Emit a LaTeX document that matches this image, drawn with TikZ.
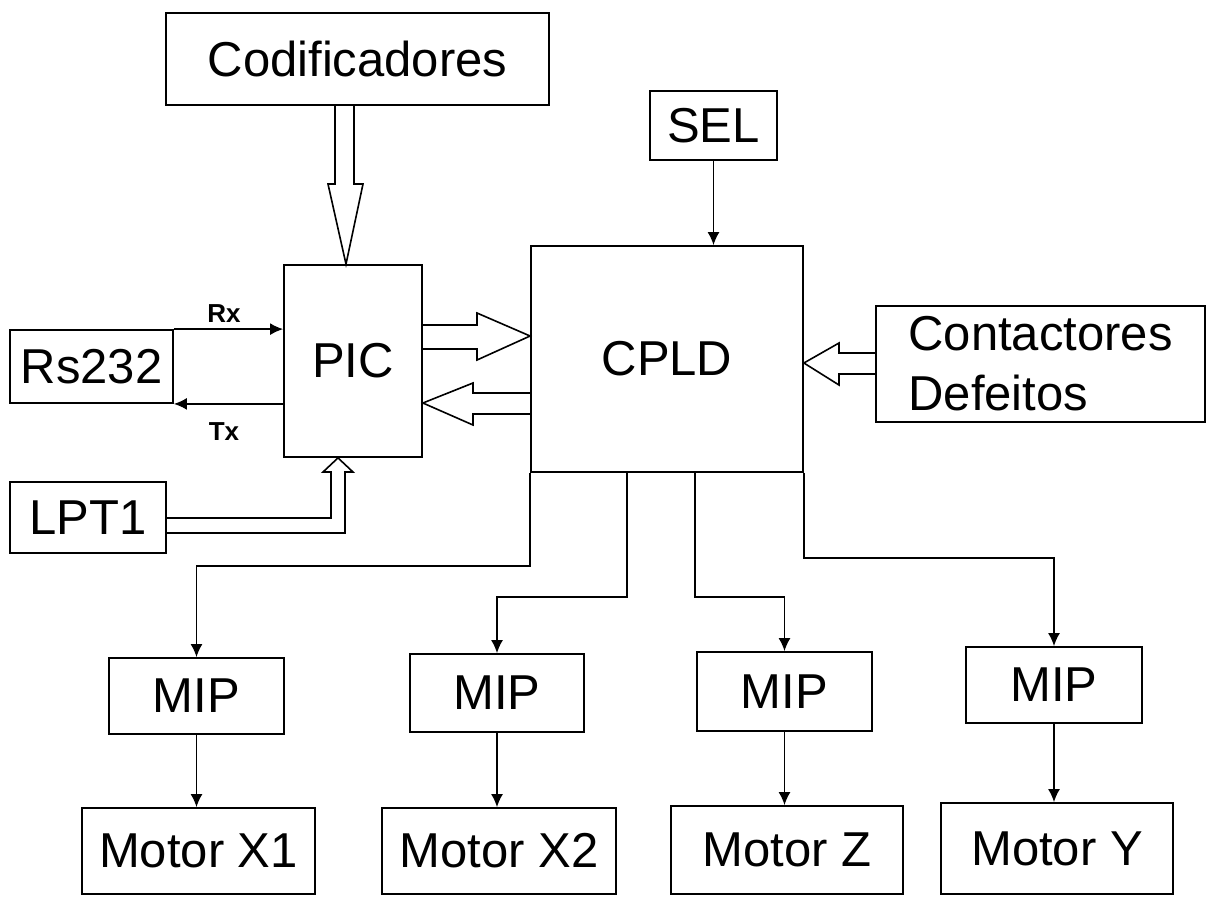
\documentclass[tikz,border=0pt]{standalone}
\usepackage{fontspec}
\setmainfont{Liberation Sans}
\usetikzlibrary{arrows.meta,calc}
\tikzset{
  bx/.style 2 args={draw, line width=0.9pt, inner sep=0pt, minimum width=#1*0.5pt, minimum height=#2*0.5pt, font=\fontsize{24.5}{30}\selectfont},
  lbl/.style={inner sep=0pt, font=\bfseries\fontsize{13}{16}\selectfont},
  arr/.style={line width=0.8pt, -{Latex[length=6.5pt,width=6pt]}},
  hollow/.style={line width=0.8pt, line join=miter}
}
\begin{document}
\begin{tikzpicture}[x=0.5pt,y=-0.5pt]
\useasboundingbox (0,0) rectangle (1207,896);
% boxes
\node[bx={383}{92}] (cod) at (357.5,59) {Codificadores};
\node[bx={127}{69}] (sel) at (713.5,125.5) {SEL};
\node[bx={138}{192}] (pic) at (353,361) {PIC};
\node[bx={272}{226}] (cpld) at (667,359) {CPLD};
\node[bx={163}{73}] (rs) at (91.5,366.5) {Rs232};
\node[bx={156}{71}] (lpt) at (88,517.5) {LPT1};
\node[bx={329}{116}, align=left] (cont) at (1040.5,364) {Contactores\\Defeitos};
\node[bx={175}{76}] (mip1) at (196.5,696) {MIP};
\node[bx={174}{78}] (mip2) at (497,693) {MIP};
\node[bx={175}{79}] (mip3) at (784.5,691.5) {MIP};
\node[bx={176}{76}] (mip4) at (1054,685) {MIP};
\node[bx={233}{86}] (mx1) at (198.5,851) {Motor X1};
\node[bx={234}{86}] (mx2) at (499,851) {Motor X2};
\node[bx={232}{88}] (mz) at (787,850) {Motor Z};
\node[bx={232}{91}] (my) at (1057,848.5) {Motor Y};
% serial lines
\draw[arr] (rs.north east) -- (pic.west |- rs.north);
\draw[arr] (pic.west |- rs.south) -- (rs.south east);
\node[lbl] (rxl) at (224,314) {Rx};
\node[lbl] (txl) at (224,432) {Tx};
% SEL
\draw[arr] (sel.south) -- (cpld.north -| sel.south);
% hollow bus arrows
\draw[hollow] (cod.south -| 335,0) -- (335,184) -- (328,184) -- (pic.north -| 346,0) -- (363,184) -- (354,184) -- (cod.south -| 354,0);
\draw[hollow] (pic.east |- 0,325) -- (477,325) -- (477,313) -- (cpld.west |- 0,336) -- (477,360) -- (477,349) -- (pic.east |- 0,349);
\draw[hollow] (cpld.west |- 0,393) -- (473,393) -- (473,383) -- (pic.east |- 0,403) -- (473,425) -- (473,414) -- (cpld.west |- 0,414);
\draw[hollow] (lpt.east |- 0,518) -- (331,518) -- (331,472) -- (323,472) -- (pic.south -| 338,0) -- (353,472) -- (345,472) -- (345,533) -- (lpt.east |- 0,533);
\draw[hollow] (cont.west |- 0,353) -- (839,353) -- (839,343) -- (cpld.east |- 0,363) -- (839,385) -- (839,374) -- (cont.west |- 0,374);
% CPLD to MIPs
\coordinate (j1) at (196.5,566);
\coordinate (j2) at (497,597);
\coordinate (j3) at (784.5,597);
\coordinate (j4) at (1054,558);
\coordinate (s2) at ($(cpld.south west)!0.353!(cpld.south east)$);
\coordinate (s3) at ($(cpld.south west)!0.603!(cpld.south east)$);
\draw[arr] (cpld.south west) |- (j1) -- (mip1.north);
\draw[arr] (s2) |- (j2) -- (mip2.north);
\draw[arr] (s3) |- (j3) -- (mip3.north);
\draw[arr] (cpld.south east) |- (j4) -- (mip4.north);
% MIPs to motors
\draw[arr] (mip1.south) -- (mip1.south |- mx1.north);
\draw[arr] (mip2.south) -- (mip2.south |- mx2.north);
\draw[arr] (mip3.south) -- (mip3.south |- mz.north);
\draw[arr] (mip4.south) -- (mip4.south |- my.north);
\end{tikzpicture}
\end{document}
